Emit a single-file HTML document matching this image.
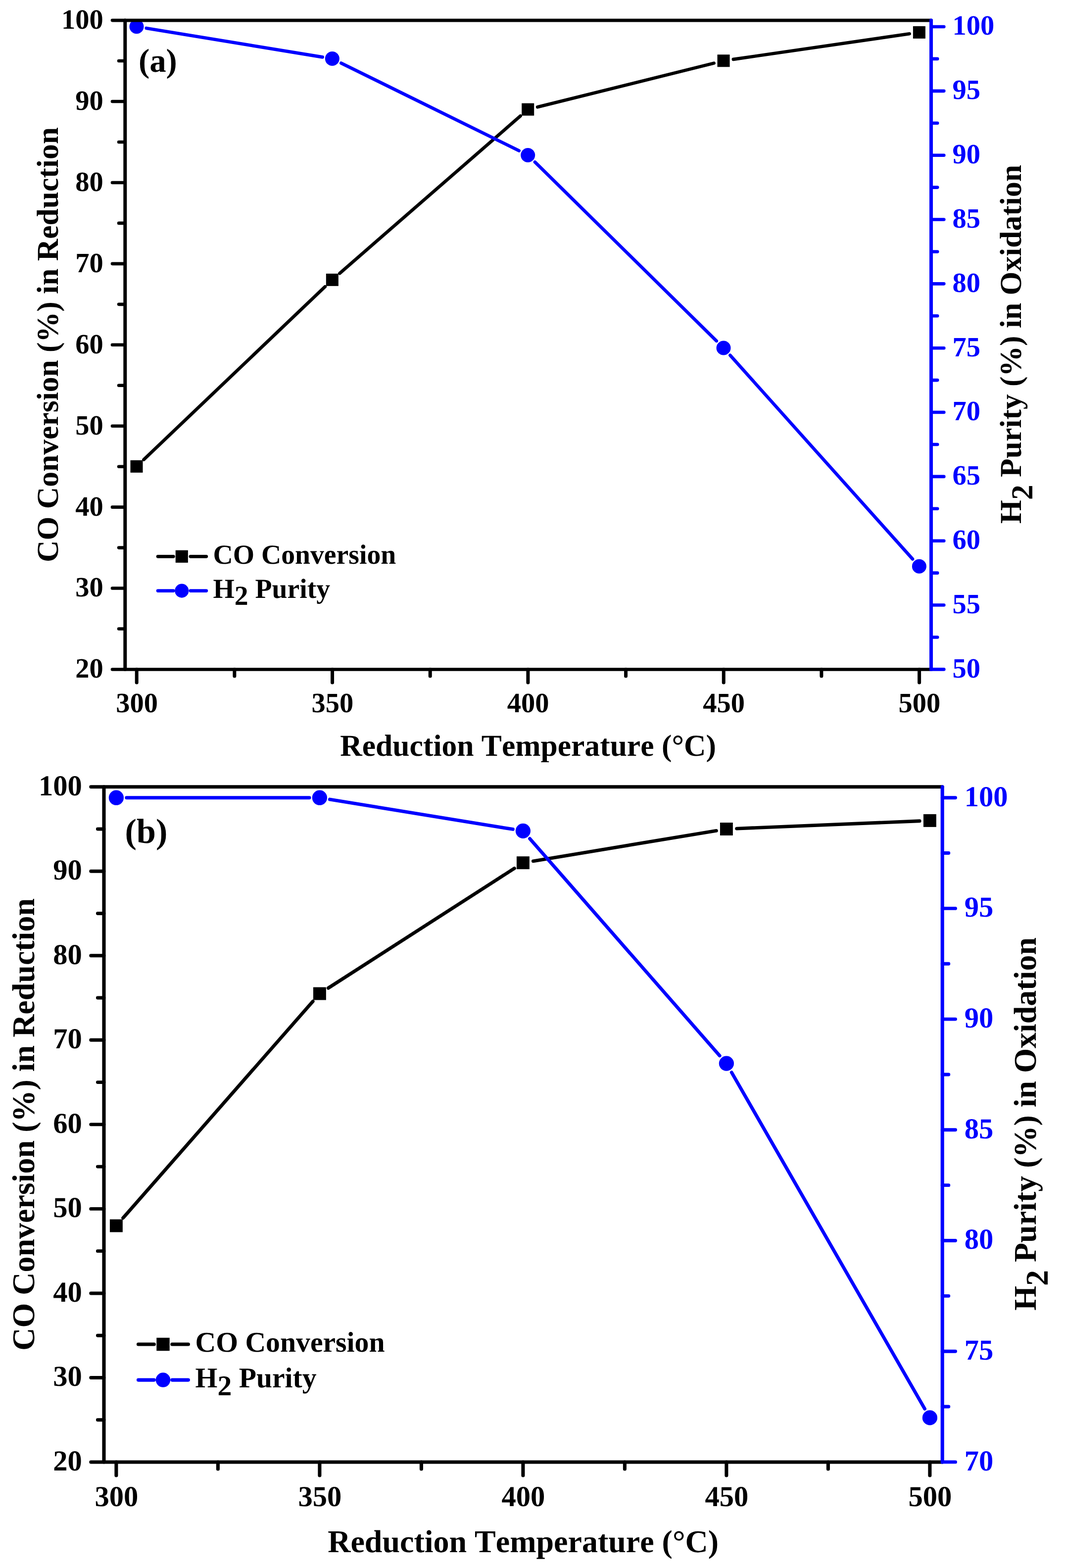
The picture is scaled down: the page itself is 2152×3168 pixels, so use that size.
<!DOCTYPE html>
<html lang="en">
<head>
<meta charset="utf-8">
<title>CO Conversion and H2 Purity vs Reduction Temperature</title>
<style>
html,body{margin:0;padding:0;background:#fff;}
body{width:2152px;height:3168px;overflow:hidden;}
svg{display:block;}
text{white-space:pre;font-kerning:none;font-variant-ligatures:none;}
</style>
</head>
<body>
<svg width="2152" height="3168" viewBox="0 0 2152 3168" text-rendering="geometricPrecision">
<rect width="2152" height="3168" fill="#fff"/>
<g id="panel-a">
<path d="M290.47 928.58L656.88 579.16M686.43 552.23L1051.62 234.25M1086.11 216.29L1442.64 127.59M1481.84 119.89L1837.61 68.26" stroke="#000" stroke-width="6.6" stroke-linecap="round" fill="none"/>
<path d="M295.74 56.94L651.61 115.38M689.29 127.46L1048.76 304.54M1080.95 327.42L1447.8 688.86M1475.39 717.8L1844.06 1129.46" stroke="#00f" stroke-width="6.6" stroke-linecap="round" fill="none"/>
<rect x="263.5" y="929.89" width="25" height="25" fill="#000"/>
<rect x="658.85" y="552.86" width="25" height="25" fill="#000"/>
<rect x="1054.2" y="208.62" width="25" height="25" fill="#000"/>
<rect x="1449.55" y="110.26" width="25" height="25" fill="#000"/>
<rect x="1844.9" y="52.89" width="25" height="25" fill="#000"/>
<circle cx="276" cy="53.7" r="14.5" fill="#00f"/>
<circle cx="671.35" cy="118.62" r="14.5" fill="#00f"/>
<circle cx="1066.7" cy="313.38" r="14.5" fill="#00f"/>
<circle cx="1462.05" cy="702.9" r="14.5" fill="#00f"/>
<circle cx="1857.4" cy="1144.36" r="14.5" fill="#00f"/>
<g stroke="#000" stroke-linecap="round" fill="none">
<path stroke-width="6.6" d="M252.8 41.1H1881.5M252.8 1352.5H1881.5M252.8 1352.5h-25.8M252.8 1270.54h-12.7M252.8 1188.57h-25.8M252.8 1106.61h-12.7M252.8 1024.65h-25.8M252.8 942.69h-12.7M252.8 860.72h-25.8M252.8 778.76h-12.7M252.8 696.8h-25.8M252.8 614.84h-12.7M252.8 532.87h-25.8M252.8 450.91h-12.7M252.8 368.95h-25.8M252.8 286.99h-12.7M252.8 205.03h-25.8M252.8 123.06h-12.7M252.8 41.1h-25.8"/>
<path stroke-width="7" d="M252.8 41.1V1352.5M276.2 1352.5v26.5M671.55 1352.5v26.5M1066.9 1352.5v26.5M1462.25 1352.5v26.5M1857.6 1352.5v26.5M473.88 1352.5v13.5M869.23 1352.5v13.5M1264.58 1352.5v13.5M1659.92 1352.5v13.5"/>
</g>
<g stroke="#00f" stroke-linecap="round" fill="none">
<path stroke-width="7" d="M1881.5 41.1V1352.5"/>
<path stroke-width="6.6" d="M1881.5 1352.4h25.8M1881.5 1287.48h12.7M1881.5 1222.56h25.8M1881.5 1157.64h12.7M1881.5 1092.72h25.8M1881.5 1027.8h12.7M1881.5 962.88h25.8M1881.5 897.96h12.7M1881.5 833.04h25.8M1881.5 768.12h12.7M1881.5 703.2h25.8M1881.5 638.28h12.7M1881.5 573.36h25.8M1881.5 508.44h12.7M1881.5 443.52h25.8M1881.5 378.6h12.7M1881.5 313.68h25.8M1881.5 248.76h12.7M1881.5 183.84h25.8M1881.5 118.92h12.7M1881.5 54h25.8"/>
</g>
<g font-family='"Liberation Serif", "DejaVu Serif", serif' font-weight="bold" font-size="56.5px">
<g text-anchor="end" fill="#000">
<text x="208.8" y="58">100</text>
<text x="208.8" y="221.93">90</text>
<text x="208.8" y="385.85">80</text>
<text x="208.8" y="549.77">70</text>
<text x="208.8" y="713.7">60</text>
<text x="208.8" y="877.62">50</text>
<text x="208.8" y="1041.55">40</text>
<text x="208.8" y="1205.47">30</text>
<text x="208.8" y="1369.4">20</text>
</g>
<g text-anchor="start" fill="#00f">
<text x="1924.5" y="70.4">100</text>
<text x="1924.5" y="200.24">95</text>
<text x="1924.5" y="330.08">90</text>
<text x="1924.5" y="459.92">85</text>
<text x="1924.5" y="589.76">80</text>
<text x="1924.5" y="719.6">75</text>
<text x="1924.5" y="849.44">70</text>
<text x="1924.5" y="979.28">65</text>
<text x="1924.5" y="1109.12">60</text>
<text x="1924.5" y="1238.96">55</text>
<text x="1924.5" y="1368.8">50</text>
</g>
<g text-anchor="middle" fill="#000">
<text x="276.5" y="1439.1">300</text>
<text x="671.85" y="1439.1">350</text>
<text x="1067.2" y="1439.1">400</text>
<text x="1462.55" y="1439.1">450</text>
<text x="1857.9" y="1439.1">500</text>
</g>
</g>
<g font-family='"Liberation Serif", "DejaVu Serif", serif' font-weight="bold" font-size="61.55px" fill="#000" text-anchor="middle">
<text x="1067.15" y="1527">Reduction Temperature (°C)</text>
<text transform="translate(117.1 696.5) rotate(-90)">CO Conversion (%) in Reduction</text>
<text transform="translate(2063 695.5) rotate(-90)">H<tspan dy="23.3">2</tspan><tspan dy="-23.3"> Purity (%) in Oxidation</tspan></text>
</g>
<text x="279.9" y="145.2" font-family='"Liberation Serif", "DejaVu Serif", serif' font-weight="bold" font-size="66.9px" fill="#000">(a)</text>
<g stroke-width="6.85" stroke-linecap="round" fill="none">
<path d="M319.1 1124.3H350.3M384.95 1124.3H416.8" stroke="#000"/>
<path d="M319.1 1193.6H350.3M384.95 1193.6H416.8" stroke="#00f"/>
</g>
<rect x="354.75" y="1111.75" width="25.1" height="25.1" fill="#000"/>
<circle cx="367.3" cy="1193.6" r="14.1" fill="#00f"/>
<g font-family='"Liberation Serif", "DejaVu Serif", serif' font-weight="bold" font-size="55.7px" fill="#000">
<text x="430.5" y="1138.8">CO Conversion</text>
<text x="430.5" y="1207.5">H<tspan dy="14.8">2</tspan><tspan dy="-14.8"> Purity</tspan></text>
</g>
</g>
<g id="panel-b">
<path d="M248.61 2460.85L632.19 2023.16M663.39 1996.27L1039.41 1754.44M1077.42 1739.78L1447.38 1678.37M1488.68 1674.11L1858.12 1658.78" stroke="#000" stroke-width="6.9" stroke-linecap="round" fill="none"/>
<path d="M255.7 1611.7L625.1 1611.7M666.43 1615.05L1036.37 1675.46M1070.6 1694.46L1454.2 2132.93M1478.26 2166.62L1868.54 2846.38" stroke="#00f" stroke-width="6.9" stroke-linecap="round" fill="none"/>
<rect x="221.95" y="2463.55" width="25.9" height="25.9" fill="#000"/>
<rect x="632.95" y="1994.57" width="25.9" height="25.9" fill="#000"/>
<rect x="1043.95" y="1730.23" width="25.9" height="25.9" fill="#000"/>
<rect x="1454.95" y="1662.02" width="25.9" height="25.9" fill="#000"/>
<rect x="1865.95" y="1644.96" width="25.9" height="25.9" fill="#000"/>
<circle cx="234.9" cy="1611.7" r="15.1" fill="#00f"/>
<circle cx="645.9" cy="1611.7" r="15.1" fill="#00f"/>
<circle cx="1056.9" cy="1678.81" r="15.1" fill="#00f"/>
<circle cx="1467.9" cy="2148.58" r="15.1" fill="#00f"/>
<circle cx="1878.9" cy="2864.42" r="15.1" fill="#00f"/>
<g stroke="#000" stroke-linecap="round" fill="none">
<path stroke-width="6.9" d="M210 1589.7H1904.2M210 2954H1904.2M210 2954h-26.3M210 2868.73h-12.6M210 2783.46h-26.3M210 2698.19h-12.6M210 2612.93h-26.3M210 2527.66h-12.6M210 2442.39h-26.3M210 2357.12h-12.6M210 2271.85h-26.3M210 2186.58h-12.6M210 2101.31h-26.3M210 2016.04h-12.6M210 1930.78h-26.3M210 1845.51h-12.6M210 1760.24h-26.3M210 1674.97h-12.6M210 1589.7h-26.3"/>
<path stroke-width="7.1" d="M210 1589.7V2954M234.9 2954v26.9M645.9 2954v26.9M1056.9 2954v26.9M1467.9 2954v26.9M1878.9 2954v26.9M440.4 2954v14M851.4 2954v14M1262.4 2954v14M1673.4 2954v14"/>
</g>
<g stroke="#00f" stroke-linecap="round" fill="none">
<path stroke-width="7.1" d="M1904.2 1589.7V2954"/>
<path stroke-width="6.9" d="M1904.2 2953.9h26.3M1904.2 2842.05h12.6M1904.2 2730.2h26.3M1904.2 2618.35h12.6M1904.2 2506.5h26.3M1904.2 2394.65h12.6M1904.2 2282.8h26.3M1904.2 2170.95h12.6M1904.2 2059.1h26.3M1904.2 1947.25h12.6M1904.2 1835.4h26.3M1904.2 1723.55h12.6M1904.2 1611.7h26.3"/>
</g>
<g font-family='"Liberation Serif", "DejaVu Serif", serif' font-weight="bold" font-size="58.6px">
<g text-anchor="end" fill="#000">
<text x="165.9" y="1606.6">100</text>
<text x="165.9" y="1777.14">90</text>
<text x="165.9" y="1947.68">80</text>
<text x="165.9" y="2118.21">70</text>
<text x="165.9" y="2288.75">60</text>
<text x="165.9" y="2459.29">50</text>
<text x="165.9" y="2629.83">40</text>
<text x="165.9" y="2800.36">30</text>
<text x="165.9" y="2970.9">20</text>
</g>
<g text-anchor="start" fill="#00f">
<text x="1948.7" y="1628.5">100</text>
<text x="1948.7" y="1852.2">95</text>
<text x="1948.7" y="2075.9">90</text>
<text x="1948.7" y="2299.6">85</text>
<text x="1948.7" y="2523.3">80</text>
<text x="1948.7" y="2747">75</text>
<text x="1948.7" y="2970.7">70</text>
</g>
<g text-anchor="middle" fill="#000">
<text x="235.4" y="3043.4">300</text>
<text x="646.4" y="3043.4">350</text>
<text x="1057.4" y="3043.4">400</text>
<text x="1468.4" y="3043.4">450</text>
<text x="1879.4" y="3043.4">500</text>
</g>
</g>
<g font-family='"Liberation Serif", "DejaVu Serif", serif' font-weight="bold" font-size="64px" fill="#000" text-anchor="middle">
<text x="1057.1" y="3136">Reduction Temperature (°C)</text>
<text transform="translate(69.1 2271.85) rotate(-90)">CO Conversion (%) in Reduction</text>
<text transform="translate(2093 2270.85) rotate(-90)">H<tspan dy="24.2">2</tspan><tspan dy="-24.2"> Purity (%) in Oxidation</tspan></text>
</g>
<text x="252.4" y="1703.1" font-family='"Liberation Serif", "DejaVu Serif", serif' font-weight="bold" font-size="70.4px" fill="#000">(b)</text>
<g stroke-width="7.1" stroke-linecap="round" fill="none">
<path d="M279.5 2716H311.35M347.8 2716H380.4" stroke="#000"/>
<path d="M279.5 2788.1H311.35M347.8 2788.1H380.4" stroke="#00f"/>
</g>
<rect x="316.3" y="2702.8" width="26.4" height="26.4" fill="#000"/>
<circle cx="329.5" cy="2788.1" r="14.75" fill="#00f"/>
<g font-family='"Liberation Serif", "DejaVu Serif", serif' font-weight="bold" font-size="57.7px" fill="#000">
<text x="394.5" y="2731.1">CO Conversion</text>
<text x="394.5" y="2803.3">H<tspan dy="15.4">2</tspan><tspan dy="-15.4"> Purity</tspan></text>
</g>
</g>
</svg>
</body>
</html>
